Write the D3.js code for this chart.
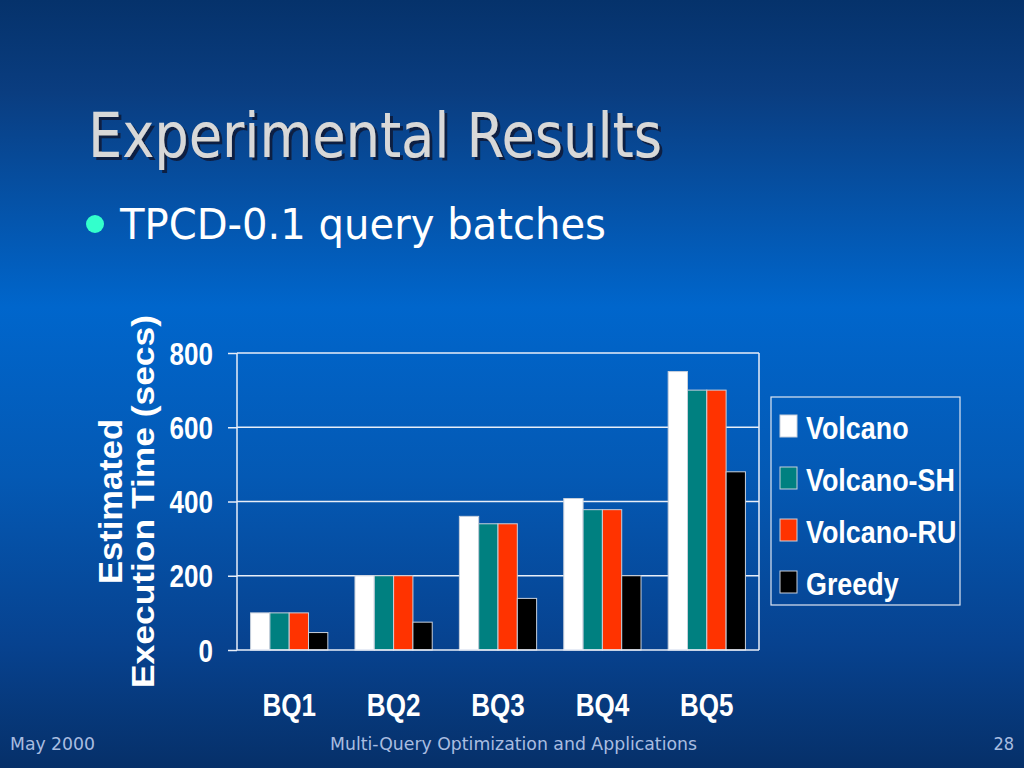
<!DOCTYPE html>
<html>
<head>
<meta charset="utf-8">
<script src="https://cdn.jsdelivr.net/npm/d3@7"></script>
<style>
  body { margin: 0; background: #063069; }
  svg { display: block; }
</style>
</head>
<body>
<svg id="chart" width="1024" height="768"></svg>
<script>
var batches = ["BQ1", "BQ2", "BQ3", "BQ4", "BQ5"];
var seriesNames = ["Volcano", "Volcano-SH", "Volcano-RU", "Greedy"];
var volcano = [100, 200, 360, 408, 750];
var volcanoSH = [100, 200, 340, 378, 700];
var volcanoRU = [100, 200, 340, 378, 700];
var greedy = [47, 75, 139, 200, 480];
var yTicks = [0, 200, 400, 600, 800];
var colors = ["#ffffff", "#008080", "#ff3300", "#000000"];

// squeeze a text horizontally, like Arial Narrow
function narrowIt(sel, k) {
  sel.each(function() {
    var w = this.getComputedTextLength();
    d3.select(this).attr("textLength", w * k).attr("lengthAdjust", "spacingAndGlyphs");
  });
}

function vis() {
  var svg = d3.select("#chart");
  var W = 1024, H = 768;

  var defs = svg.append("defs");
  var grad = defs.append("linearGradient").attr("id", "bg")
    .attr("x1", 0).attr("y1", 0).attr("x2", 0).attr("y2", 1);
  [[0, "#05326b"], [0.12, "#0a3d80"], [0.40, "#0066cc"], [0.62, "#0459b4"],
   [0.84, "#07428f"], [1, "#063069"]].forEach(function(s) {
    grad.append("stop").attr("offset", s[0]).attr("stop-color", s[1]);
  });
  defs.append("filter").attr("id", "shadow")
    .attr("x", "-5%").attr("y", "-20%").attr("width", "115%").attr("height", "150%")
    .append("feDropShadow").attr("dx", 3).attr("dy", 3).attr("stdDeviation", 0.6)
    .attr("flood-color", "#0a1f40").attr("flood-opacity", 0.95);

  svg.append("rect").attr("width", W).attr("height", H).attr("fill", "url(#bg)");

  // title
  var titleFont = "Tahoma, 'DejaVu Sans Condensed', 'DejaVu Sans', sans-serif";
  svg.append("text")
    .attr("x", 88).attr("y", 157)
    .attr("textLength", 574).attr("lengthAdjust", "spacingAndGlyphs")
    .style("font-family", titleFont).style("font-size", "62px")
    .attr("fill", "#d8d8d8").attr("filter", "url(#shadow)")
    .text("Experimental Results");

  // bullet
  svg.append("circle").attr("cx", 95).attr("cy", 224).attr("r", 9).attr("fill", "#33ffcc");
  svg.append("text")
    .attr("x", 120).attr("y", 239)
    .attr("textLength", 486).attr("lengthAdjust", "spacingAndGlyphs")
    .style("font-family", titleFont).style("font-size", "42px")
    .attr("fill", "#ffffff").text("TPCD-0.1 query batches");

  // footer
  var footFont = "Tahoma, 'DejaVu Sans Condensed', sans-serif";
  var footColor = "#a9bde0";
  svg.append("text").attr("x", 10).attr("y", 750)
    .attr("textLength", 85).attr("lengthAdjust", "spacingAndGlyphs")
    .style("font-family", footFont).style("font-size", "18px").attr("fill", footColor)
    .text("May 2000");
  svg.append("text").attr("x", 330).attr("y", 750)
    .attr("textLength", 367).attr("lengthAdjust", "spacingAndGlyphs")
    .style("font-family", footFont).style("font-size", "18px").attr("fill", footColor)
    .text("Multi-Query Optimization and Applications");
  svg.append("text").attr("x", 1014).attr("y", 750).attr("text-anchor", "end")
    .style("font-family", footFont).style("font-size", "18px").attr("fill", footColor)
    .text("28");

  // chart area
  var left = 237, right = 759, top = 353, bottom = 650;
  var bold = "'Liberation Sans', Arial, sans-serif";
  var squeeze = 0.84;

  var x0 = d3.scaleBand().domain(batches).range([left, right])
    .paddingInner(0.26).paddingOuter(0.13);
  var x1 = d3.scaleBand().domain(seriesNames).range([0, x0.bandwidth()]);
  var y = d3.scaleLinear().domain([0, 800]).range([bottom, top]);

  var g = svg.append("g");

  g.selectAll(".grid").data(yTicks.slice(1)).enter().append("line")
    .attr("x1", left).attr("x2", right)
    .attr("y1", function(d) { return y(d); }).attr("y2", function(d) { return y(d); })
    .attr("stroke", "#e8eef8").attr("stroke-width", 1.5);
  g.append("line").attr("x1", right).attr("x2", right).attr("y1", top).attr("y2", bottom)
    .attr("stroke", "#e8eef8").attr("stroke-width", 1.5);

  var data = [volcano, volcanoSH, volcanoRU, greedy];
  var rows = batches.map(function(b, i) {
    return seriesNames.map(function(s, j) { return { batch: b, series: s, idx: j, value: data[j][i] }; });
  });

  g.selectAll(".grp").data(rows).enter().append("g")
    .attr("transform", function(d) { return "translate(" + x0(d[0].batch) + ",0)"; })
    .selectAll("rect").data(function(d) { return d; }).enter().append("rect")
    .attr("x", function(d) { return x1(d.series); })
    .attr("width", x1.bandwidth())
    .attr("y", function(d) { return y(d.value); })
    .attr("height", function(d) { return y(0) - y(d.value); })
    .attr("fill", function(d) { return colors[d.idx]; })
    .attr("stroke", "#c8d0dc").attr("stroke-width", 1);

  // y axis
  var yAxis = g.append("g").attr("transform", "translate(" + left + ",0)")
    .call(d3.axisLeft(y).tickValues(yTicks).tickSize(9).tickPadding(15));
  yAxis.select(".domain").attr("stroke", "#e8eef8").attr("stroke-width", 1.5)
    .attr("d", "M0," + top + "V" + bottom);
  yAxis.selectAll(".tick line").attr("stroke", "#e8eef8").attr("stroke-width", 1.5);
  yAxis.selectAll(".tick text").attr("fill", "#ffffff").attr("dy", "0.36em")
    .style("font-family", bold).style("font-size", "31px").style("font-weight", "bold")
    .call(narrowIt, squeeze);

  // x axis
  var xAxis = g.append("g").attr("transform", "translate(0," + bottom + ")")
    .call(d3.axisBottom(x0).tickSize(0).tickPadding(44));
  xAxis.select(".domain").attr("stroke", "#e8eef8").attr("stroke-width", 1.5)
    .attr("d", "M" + left + ",0H" + right);
  xAxis.selectAll(".tick text").attr("fill", "#ffffff")
    .style("font-family", bold).style("font-size", "31px").style("font-weight", "bold")
    .call(narrowIt, squeeze);

  // y axis title
  var mid = (315 + 688) / 2;
  svg.append("text")
    .attr("transform", "translate(122," + mid + ") rotate(-90)")
    .attr("text-anchor", "middle").attr("textLength", 165).attr("lengthAdjust", "spacingAndGlyphs")
    .style("font-family", bold).style("font-size", "33px").style("font-weight", "bold")
    .attr("fill", "#ffffff").text("Estimated");
  svg.append("text")
    .attr("transform", "translate(154," + mid + ") rotate(-90)")
    .attr("text-anchor", "middle").attr("textLength", 373).attr("lengthAdjust", "spacingAndGlyphs")
    .style("font-family", bold).style("font-size", "31px").style("font-weight", "bold")
    .attr("fill", "#ffffff").text("Execution Time (secs)");

  // legend
  var lg = svg.append("g").attr("transform", "translate(771,397)");
  lg.append("rect").attr("width", 189).attr("height", 208)
    .attr("fill", "none").attr("stroke", "#dfe6f2").attr("stroke-width", 1.2);
  var item = lg.selectAll(".item").data(seriesNames).enter().append("g")
    .attr("transform", function(d, i) { return "translate(9," + (30 + i * 52) + ")"; });
  item.append("rect").attr("x", 0).attr("y", -12).attr("width", 17).attr("height", 22)
    .attr("fill", function(d, i) { return colors[i]; })
    .attr("stroke", "#c8d0dc").attr("stroke-width", 1);
  item.append("text").attr("x", 26).attr("y", 12)
    .style("font-family", bold).style("font-size", "32px").style("font-weight", "bold")
    .attr("fill", "#ffffff").text(function(d) { return d; })
    .call(narrowIt, squeeze);
}

vis();
</script>
</body>
</html>
